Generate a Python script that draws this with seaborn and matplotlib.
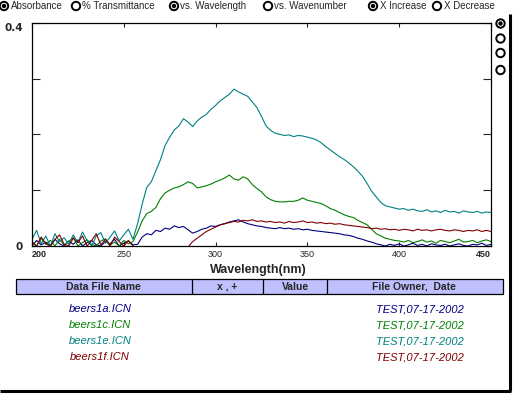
import numpy as np
import pandas as pd
import matplotlib
matplotlib.use('Agg')
import matplotlib.pyplot as plt
import seaborn as sns
from matplotlib.patches import Circle, Rectangle

# ==============================================
# DATOS
# ==============================================
archivos = ['beers1a.ICN', 'beers1c.ICN', 'beers1e.ICN', 'beers1f.ICN']
colores = ['#000080', '#008000', '#008080', '#800000']
propietario = 'TEST,07-17-2002'

# rejilla de longitud de onda: 200..450 nm cada 2.5 nm
longitudes = np.linspace(200, 450, 101)

abs_1a = [0.0, 0.01, 0.002, 0.007, 0.0, 0.012, 0.004, 0.0, 0.009, 0.003,
          0.011, 0.0, 0.006, 0.01, 0.002, 0.0, 0.008, 0.004, 0.012, 0.0,
          0.005, 0.009, 0.002, 0.003, 0.016, 0.022, 0.02, 0.028, 0.026, 0.032,
          0.03, 0.036, 0.033, 0.035, 0.029, 0.023, 0.026, 0.03, 0.032, 0.036,
          0.035, 0.038, 0.04, 0.043, 0.045, 0.047, 0.043, 0.04, 0.038, 0.036,
          0.035, 0.033, 0.032, 0.031, 0.033, 0.031, 0.032, 0.03, 0.031, 0.029,
          0.03, 0.028, 0.027, 0.026, 0.025, 0.024, 0.023, 0.022, 0.02, 0.019,
          0.017, 0.014, 0.012, 0.009, 0.007, 0.004, 0.002, 0.0, 0.003, 0.001,
          0.004, 0.0, 0.002, 0.005, 0.001, 0.003, 0.0, 0.004, 0.002, 0.001,
          0.003, 0.0, 0.002, 0.004, 0.001, 0.0, 0.003, 0.002, 0.005, 0.001,
          0.003]

abs_1c = [0.005, 0.0, 0.014, 0.003, 0.01, 0.0, 0.012, 0.002, 0.008, 0.015,
          0.0, 0.006, 0.011, 0.003, 0.0, 0.009, 0.013, 0.002, 0.007, 0.0,
          0.01, 0.004, 0.008, 0.025, 0.045, 0.058, 0.062, 0.069, 0.085, 0.095,
          0.1, 0.104, 0.106, 0.11, 0.115, 0.112, 0.104, 0.106, 0.108, 0.111,
          0.115, 0.118, 0.122, 0.127, 0.12, 0.118, 0.124, 0.12, 0.11, 0.103,
          0.097, 0.088, 0.083, 0.08, 0.079, 0.079, 0.08, 0.08, 0.082, 0.086,
          0.082, 0.08, 0.078, 0.076, 0.072, 0.067, 0.064, 0.06, 0.056, 0.053,
          0.051, 0.046, 0.042, 0.038, 0.03, 0.022, 0.018, 0.014, 0.012, 0.01,
          0.009, 0.007, 0.01, 0.006, 0.008, 0.011, 0.007, 0.009, 0.005, 0.01,
          0.008, 0.006, 0.009, 0.012, 0.007, 0.008, 0.01, 0.006, 0.009, 0.011,
          0.008]

abs_1e = [0.012, 0.028, 0.004, 0.018, 0.0, 0.022, 0.008, 0.015, 0.003, 0.02,
          0.006, 0.025, 0.01, 0.0, 0.018, 0.024, 0.005, 0.016, 0.027, 0.009,
          0.02, 0.03, 0.012, 0.04, 0.075, 0.105, 0.115, 0.135, 0.155, 0.18,
          0.195, 0.208, 0.215, 0.228, 0.222, 0.214, 0.224, 0.231, 0.236, 0.245,
          0.252, 0.26, 0.266, 0.272, 0.281, 0.276, 0.272, 0.268, 0.258, 0.248,
          0.232, 0.215, 0.207, 0.202, 0.2, 0.198, 0.199, 0.196, 0.198, 0.197,
          0.195, 0.193, 0.19, 0.185, 0.178, 0.172, 0.166, 0.16, 0.155, 0.149,
          0.142, 0.134, 0.125, 0.112, 0.098, 0.088, 0.078, 0.072, 0.07, 0.068,
          0.066, 0.067, 0.064, 0.066, 0.063, 0.062, 0.065, 0.061, 0.063, 0.06,
          0.064, 0.061, 0.062, 0.059, 0.063, 0.061, 0.06, 0.062, 0.059, 0.061,
          0.06]

abs_1f = [0.008, 0.0, 0.016, 0.004, 0.0, 0.012, 0.02, 0.003, 0.0, 0.014,
          0.006, 0.018, 0.0, 0.01, 0.022, 0.002, 0.012, 0.0, 0.016, 0.008,
          0.0, 0.01, 0.0, -0.02, -0.03, -0.03, -0.03, -0.03, -0.03, -0.03,
          -0.03, -0.03, -0.03, -0.03, -0.002, 0.008, 0.014, 0.02, 0.026, 0.03,
          0.034, 0.038, 0.04, 0.042, 0.044, 0.043, 0.046, 0.045, 0.047, 0.044,
          0.045, 0.043, 0.044, 0.042, 0.043, 0.041, 0.044, 0.042, 0.043, 0.045,
          0.042, 0.043, 0.041, 0.042, 0.04, 0.041, 0.039, 0.04, 0.038, 0.037,
          0.036, 0.035, 0.034, 0.033, 0.031, 0.032, 0.03, 0.031, 0.029, 0.03,
          0.028, 0.03, 0.029, 0.027, 0.03, 0.028, 0.029, 0.027, 0.029, 0.03,
          0.028, 0.027, 0.029, 0.028, 0.026, 0.028, 0.027, 0.029, 0.026, 0.028,
          0.026]

series = [abs_1a, abs_1c, abs_1e, abs_1f]
for s in series:
    assert len(s) == len(longitudes), len(s)

df = pd.concat([
    pd.DataFrame({'Wavelength': longitudes, 'Absorbance': vals, 'Archivo': nombre})
    for nombre, vals in zip(archivos, series)
], ignore_index=True)

# ==============================================
# FIGURA
# ==============================================
sns.set_style('white')
plt.rcParams['font.family'] = ['Liberation Sans', 'DejaVu Sans']

W, H = 513, 397
fig = plt.figure(figsize=(W / 100, H / 100), dpi=100)

# capa de fondo en coordenadas de pixel (controles, tabla, bordes)
bg = fig.add_axes([0, 0, 1, 1], zorder=0)
bg.set_xlim(0, W)
bg.set_ylim(H, 0)
bg.axis('off')

ax = fig.add_axes([32 / W, 1 - 246 / H, 459 / W, 223.3 / H], zorder=2)
ax.patch.set_alpha(0)

sns.lineplot(data=df, x='Wavelength', y='Absorbance', hue='Archivo',
             hue_order=archivos, palette=colores, estimator=None, sort=False,
             legend=False, linewidth=0.8, ax=ax)

ax.set_xlim(200, 450)
ax.set_ylim(0, 0.4)
ax.set_xticks([200, 250, 300, 350, 400, 450])
ax.set_xticklabels(['200', '250', '300', '350', '400', '450'])
ax.set_yticks([0, 0.1, 0.2, 0.3, 0.4])
ax.set_yticklabels(['0', '', '', '', '0.4'])
ax.tick_params(axis='y', direction='in', left=True, right=True, length=6,
               width=0.8, labelsize=7.5, pad=6.5)
ax.tick_params(axis='x', direction='in', bottom=True, top=True, length=3,
               width=0.8, labelsize=6.5, pad=3)
yl = ax.get_yticklabels()
for lab in yl:
    lab.set_fontweight('bold')
    lab.set_family('DejaVu Sans')
yl[-1].set_va('top')
xl = ax.get_xticklabels()
xl[0].set_ha('left')
xl[0].set_fontweight('bold')
xl[-1].set_ha('right')
xl[-1].set_fontweight('bold')
for sp in ax.spines.values():
    sp.set_color('black')
    sp.set_linewidth(0.9)
ax.set_xlabel('')
ax.set_ylabel('')
ax.grid(False)

bg.text(258, 270, 'Wavelength(nm)', ha='center', va='center',
        fontsize=9, fontweight='bold')

# ---- botones de radio superiores ----
def radio(x, y, activo):
    bg.add_patch(Circle((x, y), 4.2, facecolor='white', edgecolor='black', lw=1.4))
    if activo:
        bg.add_patch(Circle((x, y), 1.5, facecolor='black', edgecolor='black'))

opciones = [(4, 'Absorbance', True), (76, '% Transmittance', False),
            (174, 'vs. Wavelength', True), (268, 'vs. Wavenumber', False),
            (373, 'X Increase', True), (437, 'X Decrease', False)]
for x, txt, act in opciones:
    radio(x, 6, act)
    bg.text(x + 6.5, 6.3, txt, ha='left', va='center', fontsize=7)

for y, act in zip([23.5, 38.5, 53, 70], [True, False, False, False]):
    radio(500.5, y, act)

# ---- tabla de archivos ----
bg.add_patch(Rectangle((15.5, 278.5), 487.5, 15.5, facecolor='#C0C0FF',
                       edgecolor='black', lw=0.9))
for xd in [191.7, 263.3, 327.3]:
    bg.plot([xd, xd], [278.5, 294], color='black', lw=0.9)
for xc, txt in [(103, 'Data File Name'), (227, 'x , +'), (295, 'Value'),
                (414, 'File Owner,  Date')]:
    bg.text(xc, 286.5, txt, ha='center', va='center', fontsize=7.5,
            fontweight='bold')

for i, (nombre, col) in enumerate(zip(archivos, colores)):
    yy = 309 + 16 * i
    bg.text(100, yy, nombre, ha='center', va='center', fontsize=8,
            style='italic', color=col)
    bg.text(420, yy, propietario, ha='center', va='center', fontsize=8,
            style='italic', color=col)

# ---- borde (sombra) derecho e inferior ----
bg.plot([509.5, 509.5], [14, 390.5], color='black', lw=2.2, solid_capstyle='butt')
bg.plot([0, 511], [390.5, 390.5], color='black', lw=2.2, solid_capstyle='butt')

fig.savefig('out.png', dpi=100)
